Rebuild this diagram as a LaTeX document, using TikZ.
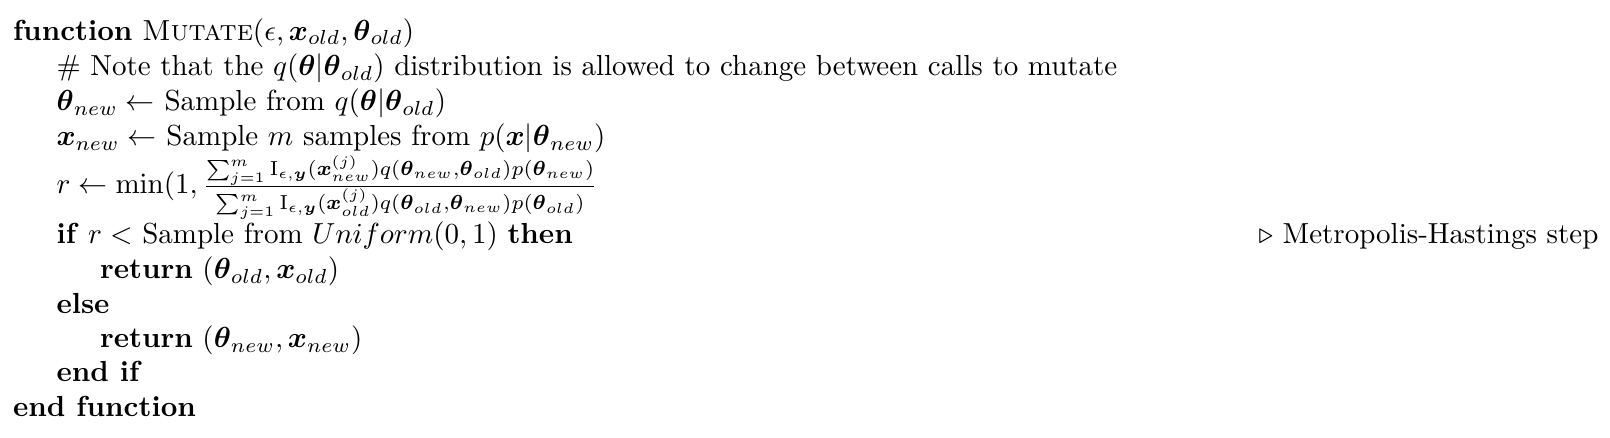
\documentclass[tikz,border=0pt]{standalone}
\usepackage{amsmath,amssymb}
\usetikzlibrary{calc}
\newcommand{\bx}{\boldsymbol{x}}
\newcommand{\bth}{\boldsymbol{\theta}}
\newcommand{\by}{\boldsymbol{y}}
\begin{document}
\begin{tikzpicture}[x=1pt,y=1pt]
\tikzset{algline/.style={inner sep=0pt, outer sep=0pt, anchor=base west, font=\normalsize},
         algtall/.style={inner sep=0pt, outer sep=0pt, anchor=north west, font=\normalsize},
         algcomment/.style={inner sep=0pt, outer sep=0pt, anchor=base east}}
\useasboundingbox (0,0) rectangle (555.2,-150.7);
\def\la{4.5}
\def\lb{19.5}
\def\lc{34.5}
\node[algline] (f1) at (\la,-13.9) {\textbf{function} \textsc{Mutate}$(\epsilon,\bx_{old},\bth_{old})$};
\node[algline] (f2) at (\lb,-26.1) {\# Note that the $q(\bth|\bth_{old})$ distribution is allowed to change between calls to mutate};
\node[algline] (f3) at (\lb,-38.2) {$\bth_{new}\leftarrow$ Sample from $q(\bth|\bth_{old})$};
\node[algline] (f4) at (\lb,-50.3) {$\bx_{new}\leftarrow$ Sample $m$ samples from $p(\bx|\bth_{new})$};
\node[algtall] (f5) at ([yshift=-1pt]f4.south west) {$r\leftarrow\min(1,\frac{\sum_{j=1}^{m}\mathrm{I}_{\epsilon,\by}(\bx_{new}^{(j)})q(\bth_{new},\bth_{old})p(\bth_{new})}{\sum_{j=1}^{m}\mathrm{I}_{\epsilon,\by}(\bx_{old}^{(j)})q(\bth_{old},\bth_{new})p(\bth_{old})}$};
\node[algtall] (f6) at ([yshift=-1pt]f5.south west) {\textbf{if} $r<$ Sample from $Uniform(0,1)$ \textbf{then}};
\coordinate (cr) at (551.2,0);
\node[algcomment] (c6) at (f6.base -| cr) {$\triangleright$ Metropolis-Hastings step};
\node[algline] (f7) at ($(f6.base west)+(15,-12.0)$) {\textbf{return} $(\bth_{old},\bx_{old})$};
\node[algline] (f8) at ($(f6.base west)+(0,-23.9)$) {\textbf{else}};
\node[algline] (f9) at ($(f6.base west)+(15,-35.8)$) {\textbf{return} $(\bth_{new},\bx_{new})$};
\node[algline] (f10) at ($(f6.base west)+(0,-47.6)$) {\textbf{end if}};
\node[algline] (f11) at ($(f6.base west)+(-15,-59.5)$) {\textbf{end function}};
\end{tikzpicture}
\end{document}
